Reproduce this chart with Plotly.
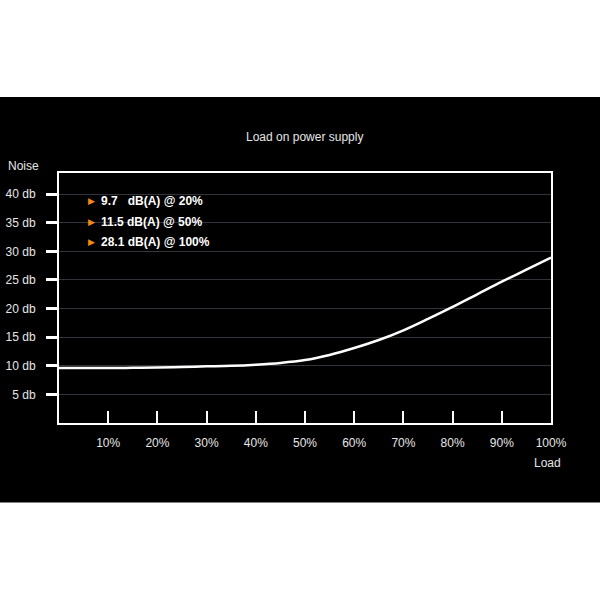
import plotly.graph_objects as go

load_pct = [0, 5, 10, 15, 20, 25, 30, 35, 40, 45, 50, 55, 60, 65, 70, 75, 80, 85, 90, 95, 100]
noise_db = [9.6, 9.6, 9.6, 9.65, 9.7, 9.8, 9.9, 10.0, 10.2, 10.5, 11.0,
            11.9, 13.1, 14.5, 16.2, 18.2, 20.3, 22.5, 24.7, 26.8, 28.9]

x_tick_vals = [10, 20, 30, 40, 50, 60, 70, 80, 90, 100]
x_tick_text = ["10%", "20%", "30%", "40%", "50%", "60%", "70%", "80%", "90%", "100%"]
y_tick_vals = [5, 10, 15, 20, 25, 30, 35, 40]
y_tick_text = ["5 db", "10 db", "15 db", "20 db", "25 db", "30 db", "35 db", "40 db"]

legend_lines = ["9.7\u00a0\u00a0\u00a0dB(A) @ 20%", "11.5 dB(A) @ 50%", "28.1 dB(A) @ 100%"]

FONT = "Liberation Sans, Arial, Helvetica, sans-serif"
TXT = "#e6e6e6"

fig = go.Figure()
fig.add_trace(go.Scatter(
    x=load_pct, y=noise_db, mode="lines",
    line=dict(color="white", width=2.5, shape="spline", smoothing=1.0),
    hoverinfo="skip", showlegend=False,
))

fig.update_layout(
    width=600, height=600,
    margin=dict(l=59, r=49, t=173, b=177),
    paper_bgcolor="white",
    plot_bgcolor="rgba(0,0,0,0)",
    font=dict(family=FONT, size=12, color=TXT),
    showlegend=False,
    xaxis=dict(
        range=[0, 100], tickvals=x_tick_vals, ticktext=x_tick_text,
        ticks="inside", ticklen=12, tickwidth=2, tickcolor="white",
        showline=True, linecolor="white", linewidth=2, mirror=True,
        showgrid=False, zeroline=False, ticklabelstandoff=8,
        automargin=False,
        tickfont=dict(size=12, color=TXT),
    ),
    yaxis=dict(
        range=[0, 43.7], tickvals=y_tick_vals, ticktext=y_tick_text,
        ticks="outside", ticklen=11, tickwidth=2.5, tickcolor="white",
        showline=True, linecolor="white", linewidth=2, mirror=True,
        showgrid=True, gridcolor="#30343b", gridwidth=1.2,
        zeroline=False, ticklabelstandoff=8,
        automargin=False,
        tickfont=dict(size=12, color=TXT),
    ),
)

fig.add_shape(type="rect", xref="paper", yref="paper",
              x0=-0.2, x1=1.2, y0=-0.318, y1=1.304,
              fillcolor="black", line=dict(width=0), layer="below")

fig.add_annotation(text="Load on power supply", xref="paper", yref="paper",
                   x=0.498, y=1.144, xanchor="center", yanchor="middle",
                   showarrow=False, font=dict(size=12, color=TXT))
fig.add_annotation(text="Noise", xref="paper", yref="paper",
                   x=-0.108, y=1.028, xanchor="left", yanchor="middle",
                   showarrow=False, font=dict(size=12, color=TXT))
fig.add_annotation(text="Load", xref="paper", yref="paper",
                   x=0.992, y=-0.16, xanchor="center", yanchor="middle",
                   showarrow=False, font=dict(size=12, color=TXT))

legend_y = [0.889, 0.804, 0.723]
for line, yy in zip(legend_lines, legend_y):
    fig.add_annotation(text="\u25B6", xref="paper", yref="paper",
                       x=0.067, y=yy, xanchor="center", yanchor="middle",
                       showarrow=False, font=dict(size=9, color="#f08a10"))
    fig.add_annotation(text="<b>" + line + "</b>", xref="paper", yref="paper",
                       x=0.081, y=yy, xanchor="left", yanchor="middle",
                       showarrow=False, font=dict(size=12, color="white"))

fig.write_html("out.html", config={"displayModeBar": False},
               post_script="document.body.style.margin='0';document.body.style.overflow='hidden';")
